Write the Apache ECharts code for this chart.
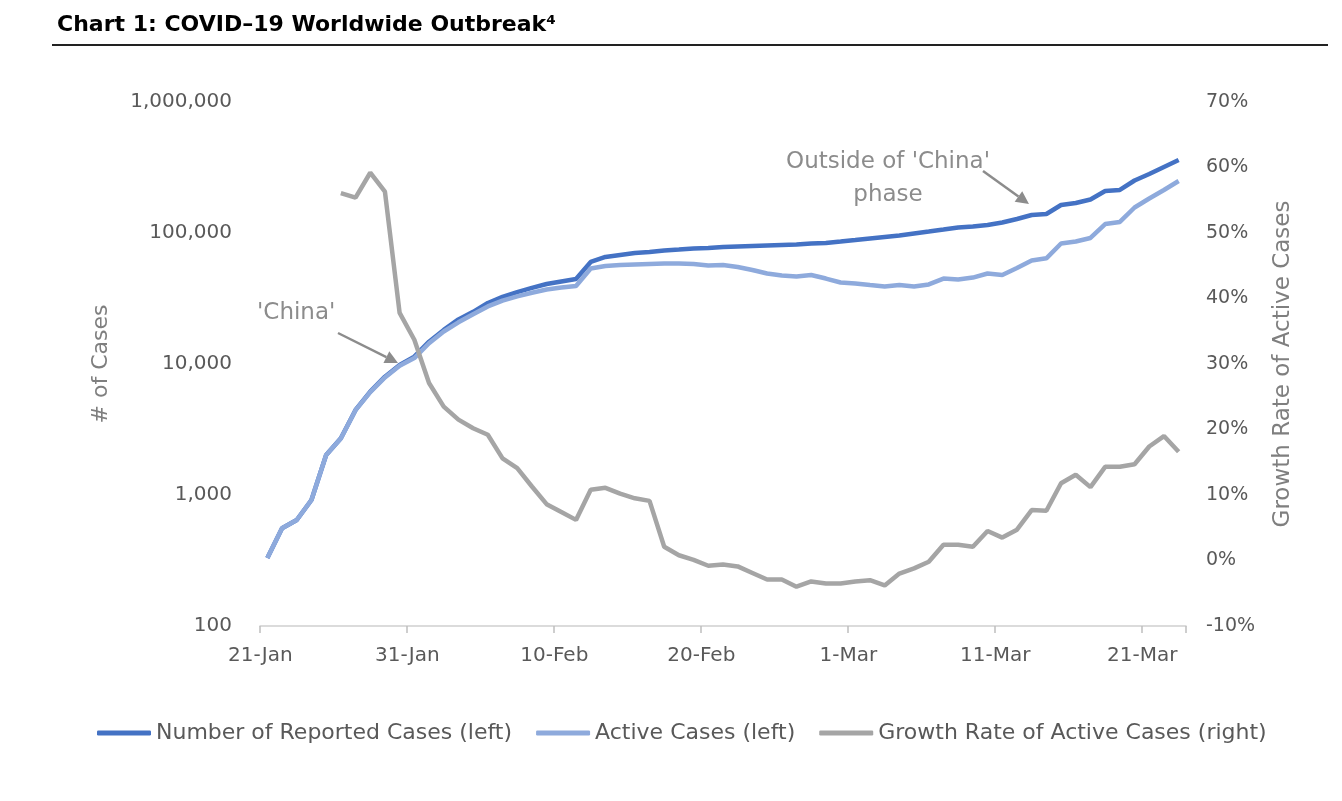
<!DOCTYPE html>
<html>
<head>
<meta charset="utf-8">
<script src="https://cdn.jsdelivr.net/npm/echarts@6/dist/echarts.min.js"></script>
<style>
  html, body { margin: 0; padding: 0; background: #fff; }
  #chart { width: 1342px; height: 801px; }
</style>
</head>
<body>
<div id="chart"></div>
<script>
// daily categories, 21-Jan .. 23-Mar (2020)
var months = ['Jan', 'Feb', 'Mar'];
var dates = [];
for (var i = 0; i < 63; i++) {
    var d = new Date(2020, 0, 21 + i);
    dates.push(d.getDate() + '-' + months[d.getMonth()]);
}

// number of reported cases (left, log)
var reported = [330, 557, 644, 916, 2020, 2710, 4460, 6150, 8000, 9830, 11370, 14800, 18200,
    21900, 25000, 29200, 32500, 35400, 38100, 40800, 42700, 44600, 60100, 65600, 68000, 70300,
    71600, 73500, 74800, 76200, 76800, 78200, 78900, 79600, 80300, 81000, 81700, 83100, 83900,
    86100, 88400, 90800, 93200, 95700, 99100, 102600, 106300, 110200, 112100, 115200, 120300,
    127900, 137200, 139600, 163600, 169400, 180200, 209400, 213000, 251600, 282000, 319000, 360500];

// active cases (left, log)
var active = [330, 557, 644, 916, 2020, 2700, 4440, 6100, 7900, 9700, 11100, 14400, 17700,
    20800, 24000, 27500, 30500, 32800, 35000, 37000, 38300, 39400, 53600, 56000, 57000, 57500,
    58000, 58400, 58400, 57900, 56500, 57000, 55000, 52200, 49100, 47400, 46600, 47800, 44900,
    41900, 41200, 40100, 39100, 40100, 39100, 40500, 44900, 44200, 45700, 49100, 47800, 54000,
    61700, 64100, 83200, 86100, 91600, 117100, 121400, 156600, 183400, 213000, 249500];

// growth rate of active cases, % (right)
var growth = [null, null, null, null, null, 56.1, 55.4, 59.2, 56.3, 37.8, 33.7, 27.1, 23.5,
    21.5, 20.2, 19.2, 15.6, 14.1, 11.3, 8.6, 7.4, 6.2, 10.8, 11.1, 10.2, 9.5, 9.1, 2.1, 0.8,
    0.1, -0.8, -0.6, -0.9, -1.9, -2.9, -2.9, -4.0, -3.2, -3.5, -3.5, -3.2, -3.0, -3.8, -2.0,
    -1.2, -0.2, 2.4, 2.4, 2.1, 4.5, 3.5, 4.7, 7.7, 7.6, 11.8, 13.1, 11.2, 14.3, 14.3, 14.7,
    17.4, 19.0, 16.6];

var FONT = 'DejaVu Sans';
var ANNO = '#8c8c8c';

// arrow helper for the annotations (line + head)
function arrow(x1, y1, x2, y2) {
    var dx = x2 - x1, dy = y2 - y1;
    var len = Math.sqrt(dx * dx + dy * dy);
    var ux = dx / len, uy = dy / len;
    var hl = 13, hw = 6.5;
    var bx = x2 - ux * hl, by = y2 - uy * hl;
    return {
        type: 'group',
        children: [
            { type: 'line', shape: { x1: x1, y1: y1, x2: bx, y2: by },
              style: { stroke: ANNO, lineWidth: 2.5 } },
            { type: 'polygon', shape: { points: [[x2, y2], [bx - uy * hw, by + ux * hw], [bx + uy * hw, by - ux * hw]] },
              style: { fill: ANNO } }
        ]
    };
}

var myChart = echarts.init(document.getElementById('chart'));
myChart.setOption({
    animation: false,
    textStyle: { fontFamily: FONT },
    grid: { left: 260, right: 156, top: 102, bottom: 175 },
    legend: {
        left: 92, top: 717,
        icon: 'roundRect',
        itemWidth: 54, itemHeight: 5, itemGap: 24,
        textStyle: { fontFamily: FONT, fontSize: 22, color: '#595959' },
        data: ['Number of Reported Cases (left)', 'Active Cases (left)', 'Growth Rate of Active Cases (right)']
    },
    xAxis: {
        type: 'category',
        data: dates,
        boundaryGap: true,
        axisLine: { onZero: false, lineStyle: { color: '#d0d0d0', width: 1.5 } },
        axisTick: { show: true, interval: 9, length: 7, lineStyle: { color: '#bfbfbf', width: 1.5 } },
        axisLabel: { interval: 9, margin: 20, fontSize: 20, color: '#595959', padding: [0, 14, 0, 0] },
        splitLine: { show: false }
    },
    yAxis: [{
        type: 'log',
        logBase: 10,
        min: 100, max: 1000000,
        name: '# of Cases',
        nameLocation: 'middle',
        nameGap: 148,
        nameTextStyle: { fontSize: 22, color: '#7f7f7f' },
        axisLine: { show: false },
        axisTick: { show: false },
        splitLine: { show: false },
        axisLabel: {
            margin: 28, fontSize: 20, color: '#595959',
            formatter: function (v) { return Math.round(v).toLocaleString('en-US'); }
        }
    }, {
        type: 'value',
        min: -10, max: 70, interval: 10,
        name: 'Growth Rate of Active Cases',
        nameLocation: 'middle',
        nameGap: 86,
        nameTextStyle: { fontSize: 23, color: '#7f7f7f' },
        axisLine: { show: false },
        axisTick: { show: false },
        splitLine: { show: false },
        axisLabel: { margin: 20, fontSize: 19, color: '#595959', formatter: '{value}%' }
    }],
    series: [{
        name: 'Number of Reported Cases (left)',
        type: 'line',
        yAxisIndex: 0,
        data: reported,
        showSymbol: false,
        color: '#4472c4',
        lineStyle: { width: 4.5, color: '#4472c4' }
    }, {
        name: 'Active Cases (left)',
        type: 'line',
        yAxisIndex: 0,
        data: active,
        showSymbol: false,
        color: '#8eaadc',
        lineStyle: { width: 4.5, color: '#8eaadc' }
    }, {
        name: 'Growth Rate of Active Cases (right)',
        type: 'line',
        yAxisIndex: 1,
        data: growth,
        showSymbol: false,
        color: '#a5a5a5',
        lineStyle: { width: 4.5, color: '#a5a5a5' }
    }],
    graphic: [
        { type: 'text', left: 57, top: 14,
          style: { text: 'Chart 1: COVID\u201319 Worldwide Outbreak\u2074', fontFamily: FONT, fontSize: 22, fontWeight: 'bold', fill: '#000' } },
        { type: 'line', shape: { x1: 52, y1: 45, x2: 1328, y2: 45 }, style: { stroke: '#222', lineWidth: 2 } },
        { type: 'text', left: 257, top: 302,
          style: { text: "'China'", fontFamily: FONT, fontSize: 23, fill: ANNO } },
        arrow(338, 333, 398, 363),
        { type: 'text', x: 888, y: 146,
          style: { text: "Outside of 'China'\nphase", fontFamily: FONT, fontSize: 23, fill: ANNO, align: 'center', lineHeight: 33 } },
        arrow(983, 171, 1029, 204)
    ]
});
</script>
</body>
</html>
